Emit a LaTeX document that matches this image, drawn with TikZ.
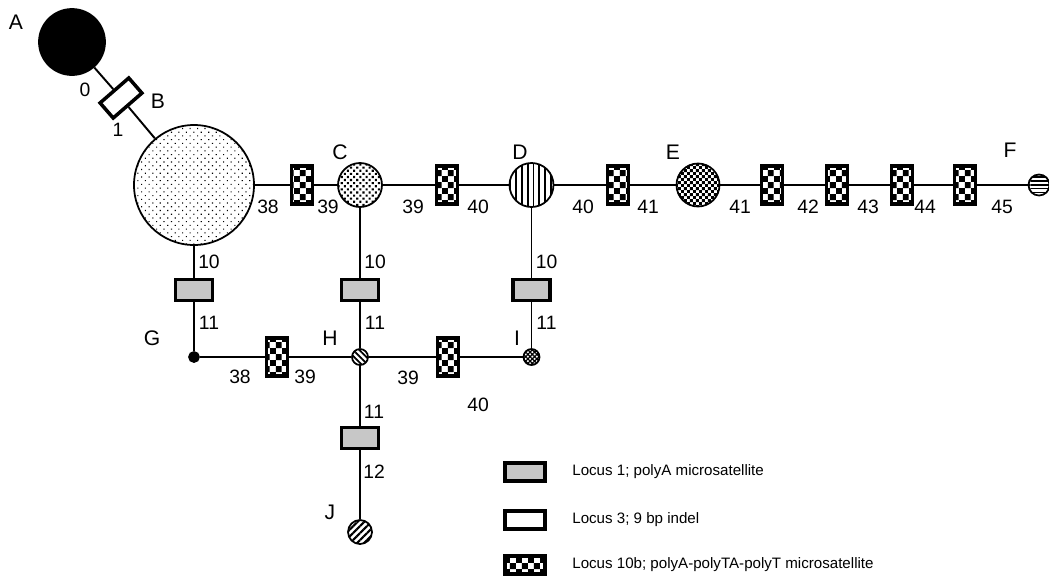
\documentclass[tikz,border=0pt]{standalone}
\usepackage{fontspec}
\setmainfont{Liberation Sans}
\usetikzlibrary{patterns,patterns.meta}

\tikzdeclarepattern{
  name=bigchecks,
  type=uncolored,
  bottom left={(0pt,0pt)},
  top right={(7pt,7pt)},
  tile size={(7pt,7pt)},
  code={
    \fill (0pt,0pt) rectangle (3.5pt,3.5pt);
    \fill (3.5pt,3.5pt) rectangle (7pt,7pt);
  }
}
\tikzdeclarepattern{
  name=finechecks,
  type=uncolored,
  bottom left={(0pt,0pt)},
  top right={(3.4pt,3.4pt)},
  tile size={(3.4pt,3.4pt)},
  code={
    \fill (0pt,0pt) rectangle (1.7pt,1.7pt);
    \fill (1.7pt,1.7pt) rectangle (3.4pt,3.4pt);
  }
}

\begin{document}
\begin{tikzpicture}[
    hap/.style={circle, draw, line width=1pt, inner sep=0pt},
    locusone/.style={draw, line width=2pt, fill=black!22, inner sep=0pt,
        minimum width=0.74cm, minimum height=0.42cm},
    indel/.style={draw, line width=2pt, fill=white, inner sep=0pt,
        minimum width=0.76cm, minimum height=0.4cm},
    polyat/.style={draw, line width=2pt, inner sep=0pt, preaction={fill=white},
        pattern=bigchecks, minimum width=0.42cm, minimum height=0.76cm},
    link/.style={line width=1.1pt},
    lab/.style={font=\fontsize{12}{14}\selectfont, inner sep=0pt},
    num/.style={font=\fontsize{11}{13}\selectfont, inner sep=0pt},
    leg/.style={font=\fontsize{8.6}{10}\selectfont, anchor=west, inner sep=0pt}
]
\useasboundingbox (0,0) rectangle (20.98,-11.74);

% haplotypes
\node[hap, fill=black, minimum size=1.32cm] (A) at (1.44,-0.84) {};
\node[hap, pattern={Dots[angle=45,distance=3pt,radius=.45pt]},
    minimum size=2.4cm] (B) at (3.88,-3.70) {};
\node[hap, pattern={Dots[angle=45,distance=2.5pt,radius=.85pt]},
    minimum size=0.88cm] (C) at (7.20,-3.70) {};
\node[hap, pattern={Lines[angle=90,distance=3.3pt,line width=1pt]},
    minimum size=0.88cm] (D) at (10.63,-3.70) {};
\node[hap, pattern=finechecks, minimum size=0.86cm] (E) at (13.96,-3.70) {};
\node[hap, pattern={Lines[angle=0,distance=2.2pt,line width=.8pt]},
    minimum size=0.42cm] (F) at (20.78,-3.70) {};
\node[hap, fill=black, minimum size=0.2cm] (G) at (3.88,-7.14) {};
\node[hap, pattern={Lines[angle=-45,distance=2.5pt,line width=1pt]},
    minimum size=0.32cm] (H) at (7.20,-7.14) {};
\node[hap, pattern={Hatch[angle=45,distance=1.8pt,line width=.7pt]},
    minimum size=0.32cm] (I) at (10.63,-7.14) {};
\node[hap, pattern={Lines[angle=45,distance=2.8pt,line width=1.2pt]},
    minimum size=0.48cm] (J) at (7.20,-10.64) {};

% mutation boxes
\node[indel, rotate=41] (ab) at (2.42,-1.96) {};
\node[polyat] (bc) at (6.04,-3.70) {};
\node[polyat] (cd) at (8.94,-3.70) {};
\node[polyat] (de) at (12.36,-3.70) {};
\node[polyat] (ef1) at (15.44,-3.70) {};
\node[polyat] (ef2) at (16.74,-3.70) {};
\node[polyat] (ef3) at (18.04,-3.70) {};
\node[polyat] (ef4) at (19.30,-3.70) {};
\node[locusone] (bg) at (3.88,-5.80) {};
\node[locusone] (ch) at (7.20,-5.80) {};
\node[locusone] (di) at (10.63,-5.80) {};
\node[polyat] (gh) at (5.54,-7.14) {};
\node[polyat] (hi) at (8.96,-7.14) {};
\node[locusone] (hj) at (7.20,-8.76) {};

% connectors
\draw[link] (A) -- (ab) -- (B);
\draw[link] (B) -- (bc) -- (C) -- (cd) -- (D) -- (de) -- (E)
    -- (ef1) -- (ef2) -- (ef3) -- (ef4) -- (F);
\draw[link] (B) -- (bg) -- (G);
\draw[link] (C) -- (ch) -- (H);
\draw[link] (D) -- (di) -- (I);
\draw[link] (G) -- (gh) -- (H) -- (hi) -- (I);
\draw[link] (H) -- (hj) -- (J);

% haplotype names
\node[lab] (labA) at (0.32,-0.44) {A};
\node[lab] (labB) at (3.16,-2.02) {B};
\node[lab] (labC) at (6.80,-3.04) {C};
\node[lab] (labD) at (10.40,-3.04) {D};
\node[lab] (labE) at (13.46,-3.04) {E};
\node[lab] (labF) at (20.20,-3.00) {F};
\node[lab] (labG) at (3.04,-6.76) {G};
\node[lab] (labH) at (6.60,-6.76) {H};
\node[lab] (labI) at (10.34,-6.76) {I};
\node[lab] (labJ) at (6.60,-10.24) {J};

% allele sizes
\node[num] (n0) at (1.70,-1.80) {0};
\node[num] (n1) at (2.36,-2.60) {1};
\node[num] (nbc1) at (5.36,-4.14) {38};
\node[num] (nbc2) at (6.56,-4.14) {39};
\node[num] (ncd1) at (8.26,-4.14) {39};
\node[num] (ncd2) at (9.56,-4.14) {40};
\node[num] (nde1) at (11.66,-4.14) {40};
\node[num] (nde2) at (12.96,-4.14) {41};
\node[num] (nef1) at (14.80,-4.14) {41};
\node[num] (nef2) at (16.16,-4.14) {42};
\node[num] (nef3) at (17.36,-4.14) {43};
\node[num] (nef4) at (18.50,-4.14) {44};
\node[num] (nef5) at (20.04,-4.14) {45};
\node[num] (nbg1) at (4.18,-5.24) {10};
\node[num] (nbg2) at (4.18,-6.46) {11};
\node[num] (nch1) at (7.50,-5.24) {10};
\node[num] (nch2) at (7.50,-6.46) {11};
\node[num] (ndi1) at (10.93,-5.24) {10};
\node[num] (ndi2) at (10.93,-6.46) {11};
\node[num] (ngh1) at (4.80,-7.54) {38};
\node[num] (ngh2) at (6.10,-7.54) {39};
\node[num] (nhi1) at (8.16,-7.56) {39};
\node[num] (nhi2) at (9.56,-8.10) {40};
\node[num] (nhj1) at (7.48,-8.24) {11};
\node[num] (nhj2) at (7.48,-9.44) {12};

% legend
\node[locusone, minimum width=0.8cm, minimum height=0.36cm] (key1) at (10.50,-9.44) {};
\node[indel, minimum width=0.8cm, minimum height=0.36cm] (key3) at (10.50,-10.40) {};
\node[polyat, minimum width=0.8cm, minimum height=0.36cm] (key10) at (10.50,-11.30) {};
\node[leg] (txt1) at (11.44,-9.44) {Locus 1; polyA microsatellite};
\node[leg] (txt3) at (11.44,-10.40) {Locus 3; 9 bp indel};
\node[leg] (txt10) at (11.44,-11.30) {Locus 10b; polyA-polyTA-polyT microsatellite};
\end{tikzpicture}
\end{document}
